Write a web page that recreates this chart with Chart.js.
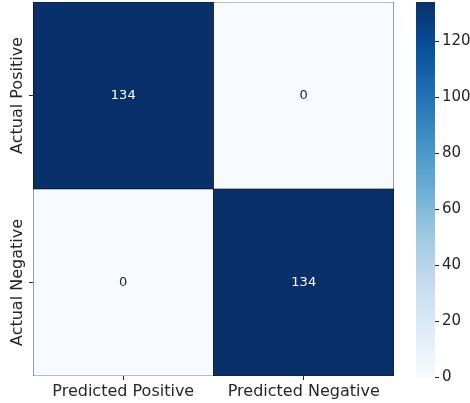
<!DOCTYPE html>
<html>
<head>
<meta charset="utf-8">
<script src="https://cdn.jsdelivr.net/npm/chart.js@4.4.1/dist/chart.umd.min.js"></script>
<style>
    html, body { margin: 0; padding: 0; background: #ffffff; }
    #wrap { position: relative; width: 470px; height: 403px; }
    #matrixChart { position: absolute; left: 0; top: 0; }
    #colorbarChart { position: absolute; left: 400px; top: 0; }
</style>
</head>
<body>
<div id="wrap">
    <canvas id="matrixChart" width="400" height="403"></canvas>
    <canvas id="colorbarChart" width="70" height="403"></canvas>
</div>
<script>
// ============================================================================
// Data
// ============================================================================
const predictedLabels = ['Predicted Positive', 'Predicted Negative'];
const actualLabels = ['Actual Positive', 'Actual Negative'];
const actualPositiveRow = [134, 0];
const actualNegativeRow = [0, 134];
const colorbarTicks = [0, 20, 40, 60, 80, 100, 120];
const colorbarMax = 134;

// ============================================================================
// Colours (matplotlib "Blues")
// ============================================================================
const BLUES = ['#f7fbff', '#deebf7', '#c6dbef', '#9ecae1', '#6baed6',
               '#4292c6', '#2171b5', '#08519c', '#08306b'];
const TEXT_COLOR = '#262626';
const FONT = '"DejaVu Sans", sans-serif';

function hexToRgb(hex) {
    const n = parseInt(hex.slice(1), 16);
    return [(n >> 16) & 255, (n >> 8) & 255, n & 255];
}

function bluesAt(t) {
    t = Math.max(0, Math.min(1, t));
    const pos = t * (BLUES.length - 1);
    const i = Math.min(Math.floor(pos), BLUES.length - 2);
    const f = pos - i;
    const a = hexToRgb(BLUES[i]);
    const b = hexToRgb(BLUES[i + 1]);
    const c = a.map((v, k) => Math.round(v + (b[k] - v) * f));
    return `rgb(${c[0]}, ${c[1]}, ${c[2]})`;
}

// ============================================================================
// Plugins
// ============================================================================
// Numbers inside each cell
const cellText = {
    id: 'cellText',
    afterDatasetsDraw(chart) {
        const ctx = chart.ctx;
        ctx.save();
        ctx.font = `13px ${FONT}`;
        ctx.textAlign = 'center';
        ctx.textBaseline = 'middle';
        chart.data.datasets.forEach((ds, di) => {
            chart.getDatasetMeta(di).data.forEach((bar, i) => {
                const v = ds.cellValues[i];
                const c = bar.getCenterPoint();
                ctx.fillStyle = v / colorbarMax > 0.5 ? '#ffffff' : TEXT_COLOR;
                ctx.fillText(String(v), c.x, c.y);
            });
        });
        ctx.restore();
    }
};

// Rotated row labels, placed with the y scale
const rowLabels = {
    id: 'rowLabels',
    afterDraw(chart) {
        const y = chart.scales.y;
        const ctx = chart.ctx;
        ctx.save();
        ctx.font = `16px ${FONT}`;
        ctx.fillStyle = TEXT_COLOR;
        ctx.textAlign = 'center';
        ctx.textBaseline = 'middle';
        y.ticks.forEach(tick => {
            const label = tick.value > 1 ? actualLabels[0] : actualLabels[1];
            ctx.save();
            ctx.translate(y.right - 15, y.getPixelForValue(tick.value));
            ctx.rotate(-Math.PI / 2);
            ctx.fillText(label, 0, 0);
            ctx.restore();
        });
        ctx.restore();
    }
};

// ============================================================================
// Confusion matrix
// ============================================================================
new Chart(document.getElementById('matrixChart'), {
    type: 'bar',
    data: {
        labels: predictedLabels,
        datasets: [
            {
                label: actualLabels[1],
                cellValues: actualNegativeRow,
                data: actualNegativeRow.map(() => 1),
                backgroundColor: actualNegativeRow.map(v => bluesAt(v / colorbarMax)),
                borderColor: '#000000',
                borderWidth: 0.7,
                borderSkipped: false,
                barPercentage: 1,
                categoryPercentage: 1
            },
            {
                label: actualLabels[0],
                cellValues: actualPositiveRow,
                data: actualPositiveRow.map(() => 1),
                backgroundColor: actualPositiveRow.map(v => bluesAt(v / colorbarMax)),
                borderColor: '#000000',
                borderWidth: 0.7,
                borderSkipped: false,
                barPercentage: 1,
                categoryPercentage: 1
            }
        ]
    },
    options: {
        responsive: false,
        animation: false,
        layout: { padding: { top: 2, right: 6, left: 0, bottom: 0 } },
        plugins: { legend: { display: false }, tooltip: { enabled: false } },
        scales: {
            x: {
                stacked: true,
                border: { display: false },
                grid: { offset: false, drawOnChartArea: false, tickLength: 4, color: TEXT_COLOR },
                ticks: { font: { family: FONT, size: 16 }, color: TEXT_COLOR, padding: 2, maxRotation: 0 },
                afterFit: s => { s.height = 27; }
            },
            y: {
                stacked: true,
                min: 0,
                max: 2,
                border: { display: false },
                grid: { drawOnChartArea: false, tickLength: 4, color: TEXT_COLOR },
                ticks: { display: false },
                afterBuildTicks: s => { s.ticks = [{ value: 0.5 }, { value: 1.5 }]; },
                afterFit: s => { s.width = 33; }
            }
        }
    },
    plugins: [cellText, rowLabels]
});

// ============================================================================
// Colour bar
// ============================================================================
new Chart(document.getElementById('colorbarChart'), {
    type: 'bar',
    data: {
        labels: [''],
        datasets: [{
            data: [colorbarMax],
            backgroundColor: (c) => {
                const chart = c.chart;
                if (!chart.chartArea) return BLUES[0];
                const ys = chart.scales.y;
                const g = chart.ctx.createLinearGradient(0, ys.getPixelForValue(0), 0, ys.getPixelForValue(colorbarMax));
                BLUES.forEach((col, i) => g.addColorStop(i / (BLUES.length - 1), col));
                return g;
            },
            borderWidth: 0,
            barPercentage: 1,
            categoryPercentage: 1
        }]
    },
    options: {
        responsive: false,
        animation: false,
        layout: { padding: { top: 2, bottom: 26, left: 16, right: 0 } },
        plugins: { legend: { display: false }, tooltip: { enabled: false } },
        scales: {
            x: { display: false },
            y: {
                position: 'right',
                min: 0,
                max: colorbarMax,
                border: { display: false },
                grid: { drawOnChartArea: false, tickLength: 4, color: TEXT_COLOR },
                ticks: { font: { family: FONT, size: 15 }, color: TEXT_COLOR, padding: 3 },
                afterBuildTicks: s => { s.ticks = colorbarTicks.map(v => ({ value: v })); },
                afterFit: s => {
                    s.width = 35;
                    s.paddingTop = 0;
                    s.paddingBottom = 0;
                }
            }
        }
    }
});
</script>
</body>
</html>
